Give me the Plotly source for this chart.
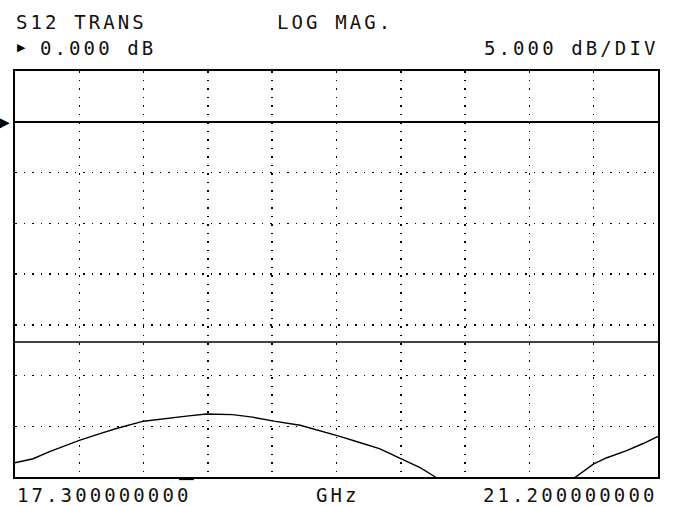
import plotly.graph_objects as go

# ---------------- data ----------------
start_ghz = 17.3
stop_ghz = 21.2
ref_db = 0.0
scale_db_per_div = 5.0
n_div_x = 10
n_div_y = 8
ref_div_from_top = 1
marker_ghz = 18.34

freq_ghz = [17.30, 17.41, 17.51, 17.61, 17.69, 17.82, 17.92, 18.08, 18.22, 18.34,
            18.46, 18.62, 18.74, 18.87, 19.03, 19.19, 19.27, 19.39, 19.51, 19.64,
            19.76, 19.84, 19.90, 20.65, 20.71, 20.81, 20.89, 21.01, 21.11, 21.20]
s12_db = [-33.6, -33.2, -32.5, -31.9, -31.4, -30.7, -30.2, -29.5, -29.2, -29.0,
          -28.8, -28.85, -29.1, -29.5, -29.9, -30.6, -31.0, -31.6, -32.2, -33.2,
          -34.1, -34.9, -35.6, -35.6, -34.9, -33.7, -33.1, -32.4, -31.7, -31.0]

mem_freq_ghz = [17.3, 21.2]
mem_db = [-21.7, -21.7]

header_left = "S12 TRANS"
header_mid = "LOG MAG."
ref_label = "0.000 dB"
scale_label = "5.000 dB/DIV"
start_label = "17.300000000"
unit_label = "GHz"
stop_label = "21.200000000"

# ---------------- figure ----------------
y_top = ref_db + ref_div_from_top * scale_db_per_div
y_bot = y_top - n_div_y * scale_db_per_div

fig = go.Figure()
fig.add_trace(go.Scatter(x=mem_freq_ghz, y=mem_db, mode="lines",
                         line=dict(color="black", width=1.6), hoverinfo="skip"))
fig.add_trace(go.Scatter(x=freq_ghz, y=s12_db, mode="lines",
                         line=dict(color="black", width=1.4), hoverinfo="skip"))

FONT = dict(family="DejaVu Sans Mono", size=19, color="#111111")
LS = 'letter-spacing:3.1px'

def sp(t):
    return f'<span style="{LS}">{t}</span>'

def px_to_paper_x(px):
    return (px - 15) / 643.0

def px_to_paper_y(py):
    return (477 - py) / 406.0

anns = [
    dict(text=sp(header_left), x=px_to_paper_x(14), y=px_to_paper_y(22), xanchor="left"),
    dict(text=sp(header_mid), x=px_to_paper_x(275), y=px_to_paper_y(22), xanchor="left"),
    dict(text=sp(ref_label), x=px_to_paper_x(38), y=px_to_paper_y(48), xanchor="left"),
    dict(text=sp(scale_label), x=px_to_paper_x(660), y=px_to_paper_y(48), xanchor="right"),
    dict(text=sp(start_label), x=px_to_paper_x(15), y=px_to_paper_y(495), xanchor="left"),
    dict(text=sp(unit_label), x=px_to_paper_x(338), y=px_to_paper_y(495), xanchor="center"),
    dict(text=sp(stop_label), x=px_to_paper_x(659), y=px_to_paper_y(495), xanchor="right"),
]
annotations = []
for a in anns:
    a.update(xref="paper", yref="paper", yanchor="middle", showarrow=False, font=FONT)
    annotations.append(a)

# small triangle in header
annotations.append(dict(text="▶", x=px_to_paper_x(15), y=px_to_paper_y(48), xref="paper", yref="paper",
                        xanchor="left", yanchor="middle", showarrow=False,
                        font=dict(family="DejaVu Sans", size=11, color="black")))
# reference position triangle
annotations.append(dict(text="▶", x=0, y=ref_db, xref="paper", yref="y",
                        xanchor="right", yanchor="middle", showarrow=False, xshift=-3,
                        font=dict(family="DejaVu Sans", size=14, color="black")))

shapes = [dict(type="line", xref="x", yref="paper", x0=marker_ghz - 0.045, x1=marker_ghz + 0.045,
               y0=-0.004, y1=-0.004, line=dict(color="black", width=3))]

dx = (stop_ghz - start_ghz) / n_div_x
fig.update_layout(
    width=673, height=506, autosize=False,
    margin=dict(l=15, r=15, t=71, b=29, pad=0),
    paper_bgcolor="white", plot_bgcolor="white",
    showlegend=False,
    annotations=annotations,
    shapes=shapes,
    xaxis=dict(range=[start_ghz, stop_ghz], tick0=start_ghz, dtick=dx, showticklabels=False,
               ticks="", showgrid=True, gridcolor="black", gridwidth=1.5, griddash="1.5px,7px",
               showline=True, linecolor="black", linewidth=2, mirror=True, zeroline=False),
    yaxis=dict(range=[y_bot, y_top], tick0=y_bot, dtick=scale_db_per_div, showticklabels=False,
               ticks="", showgrid=True, gridcolor="black", gridwidth=1.5, griddash="1.5px,7px",
               showline=True, linecolor="black", linewidth=2, mirror=True,
               zeroline=True, zerolinecolor="black", zerolinewidth=1.6),
)

fig.write_html("out.html", config={"displayModeBar": False, "staticPlot": True},
               post_script="document.body.style.margin='0';document.body.style.overflow='hidden';")
